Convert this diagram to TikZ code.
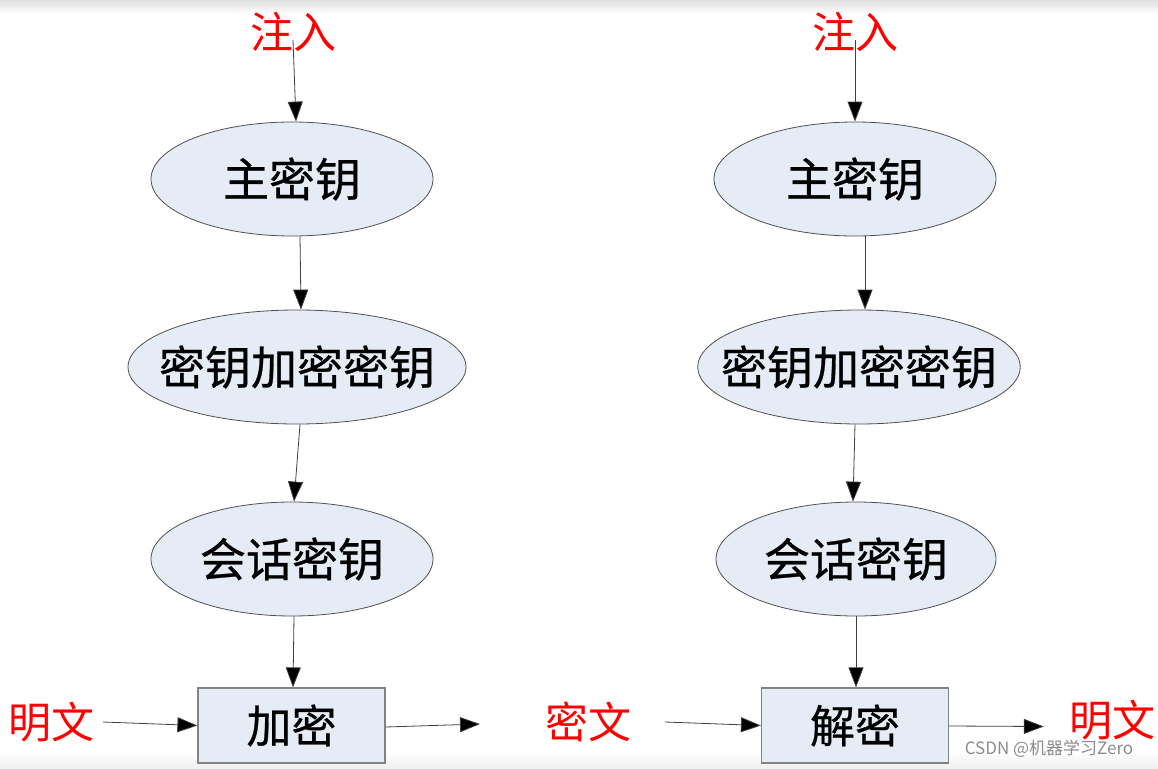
\documentclass[tikz,border=0pt]{standalone}
\usepackage{fontspec}
\newfontfamily\cjk{Noto Sans CJK SC}
\newfontfamily\cjkb[FakeBold=0.6]{Noto Sans CJK SC}
\usetikzlibrary{shapes.geometric,arrows.meta}
\definecolor{nodefill}{RGB}{230,236,246}
\definecolor{nodeline}{RGB}{80,80,80}
\definecolor{boxline}{RGB}{130,130,130}
\definecolor{redtxt}{RGB}{255,0,0}
\begin{document}
\begin{tikzpicture}[x=1pt,y=-1pt,
  key/.style={ellipse, draw=nodeline, fill=nodefill, line width=0.8pt, inner sep=-16pt,
    minimum height=114pt, font=\cjkb\fontsize{46}{46}\selectfont},
  proc/.style={rectangle, draw=boxline, fill=nodefill, line width=1.2pt, inner sep=0pt,
    minimum width=187pt, minimum height=75pt, font=\cjkb\fontsize{45}{45}\selectfont},
  lbl/.style={text=redtxt, inner sep=0pt, font=\cjk\fontsize{43}{43}\selectfont},
  arr/.style={draw=black!75, line width=0.8pt, -{Triangle[length=20pt,width=15pt,fill=black]}},
  wm/.style={text=black!45, inner sep=0pt, font=\cjk\fontsize{17}{17}\selectfont}]
\useasboundingbox (0,0) rectangle (1158,768);
\fill[white] (0,0) rectangle (1158,768);
\shade[top color=black!12, bottom color=white] (0,0) rectangle (1158,14);
\shade[top color=white, bottom color=black!6] (0,752) rectangle (1158,768);

% left column
\node[lbl] (inj1) at (293,32) {注入};
\node[key, minimum width=282pt] (mk1) at (292,179) {主密钥};
\node[key, minimum width=338pt, inner xsep=-19pt] (kek1) at (297,367) {密钥加密密钥};
\node[key, minimum width=282pt] (sk1) at (292,559) {会话密钥};
\node[proc] (enc) at (291.5,725.5) {加密};
\node[lbl] (pt1) at (52,722) {明文};
\coordinate (out1) at (480,724);

% right column
\node[lbl] (inj2) at (855,32) {注入};
\node[key, minimum width=282pt] (mk2) at (855,179) {主密钥};
\node[key, minimum width=318pt, inner xsep=-24pt] (kek2) at (859,367) {密钥加密密钥};
\node[key, minimum width=280pt] (sk2) at (856,559) {会话密钥};
\node[proc] (dec) at (855,725.5) {解密};
\node[lbl] (ct) at (588,722) {密文};
\node[lbl] (pt2) at (1112,720) {明文};

\node[wm] (wmk) at (1049,749) {CSDN @机器学习Zero};

% connectors
\draw[arr] ([yshift=12pt]inj1.south) -- ([xshift=4pt]mk1.north);
\draw[arr] ([xshift=8pt]mk1.south) -- ([xshift=4pt]kek1.north);
\draw[arr] ([xshift=3pt]kek1.south) -- ([xshift=2pt]sk1.north);
\draw[arr] ([xshift=2pt]sk1.south) -- ([xshift=1.5pt]enc.north);
\draw[arr] ([xshift=8pt]pt1.east) -- (enc.west);
\draw[arr] ([yshift=-1.5pt]enc.east) -- (out1);

\draw[arr] ([yshift=12pt]inj2.south) -- (mk2.north);
\draw[arr] ([xshift=10pt]mk2.south) -- ([xshift=6pt]kek2.north);
\draw[arr] ([xshift=-4pt]kek2.south) -- ([xshift=-3pt]sk2.north);
\draw[arr] (sk2.south) -- ([xshift=1pt]dec.north);
\draw[arr] ([xshift=34pt]ct.east) -- (dec.west);
\draw[arr] ([yshift=-0.5pt]dec.east) -- ([xshift=-25pt,yshift=-6.5pt]pt2.west);
\end{tikzpicture}
\end{document}
